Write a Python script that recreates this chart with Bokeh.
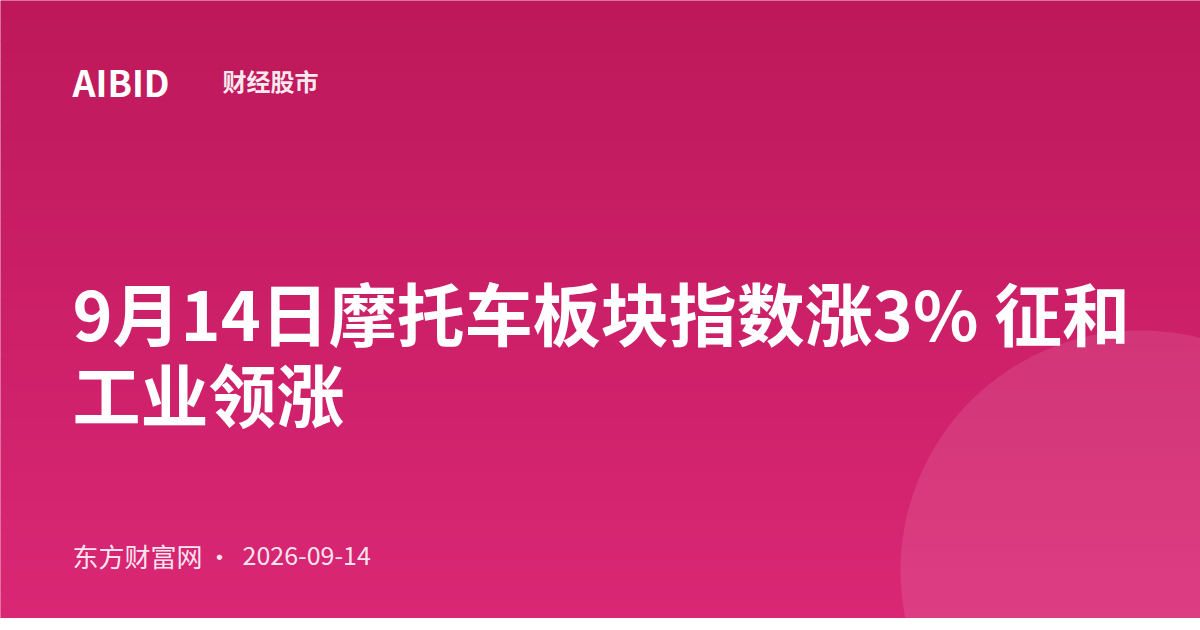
from bokeh.plotting import figure
from bokeh.models import Range1d
from bokeh.core.properties import value
from bokeh.embed import file_html
from bokeh.resources import INLINE

# ---- content ----
brand = "AIBID"
channel = "财经股市"
title_lines = ["9月14日摩托车板块指数涨3% 征和", "工业领涨"]
source = "东方财富网"
separator = "·"
date = "2026-09-14"

# ---- canvas in reference pixel coordinates ----
W, H = 1200, 618
p = figure(width=W, height=H, output_backend="svg", toolbar_location=None,
           x_range=Range1d(0, W), y_range=Range1d(H, 0),
           min_border=0, outline_line_color=None)
p.axis.visible = False
p.grid.visible = False
p.background_fill_color = "#C91F66"
p.border_fill_color = "white"

# vertical gradient background
top = (0xBD, 0x18, 0x5A)
bot = (0xDA, 0x27, 0x75)
n = 62
step = H / n
tops, bots, cols = [], [], []
for i in range(n):
    t = (i + 0.5) / n
    c = tuple(round(top[k] + (bot[k] - top[k]) * t) for k in range(3))
    tops.append(i * step)
    bots.append((i + 1) * step + 0.6)
    cols.append("#%02x%02x%02x" % c)
p.quad(left=0, right=W, top=tops, bottom=bots, fill_color=cols, line_color=None)

# decorative circle
p.circle(x=[1140], y=[570], radius=240, fill_color="white", fill_alpha=0.1, line_color=None)

font = value("Noto Sans CJK SC")
p.text(x=[72], y=[80], text=[brand], text_font=font, text_font_style="bold",
       text_font_size="36px", text_color="white", text_baseline="middle")
p.text(x=[222], y=[80], text=[channel], text_font=font, text_font_style="bold",
       text_font_size="24px", text_color="white", text_alpha=0.92, text_baseline="middle")

p.text(x=[72, 72], y=[311, 392], text=title_lines, text_font=font, text_font_style="bold",
       text_font_size="68px", text_color="white", text_baseline="middle")

p.text(x=[72], y=[555], text=[source], text_font=font, text_font_size="26px",
       text_color="white", text_alpha=0.9, text_baseline="middle")
p.text(x=[219], y=[555], text=[separator], text_font=font, text_font_size="25px",
       text_color="white", text_alpha=0.9, text_baseline="middle", text_align="center")
p.text(x=[242], y=[555], text=[date], text_font=font, text_font_size="25px",
       text_color="white", text_alpha=0.9, text_baseline="middle")

open("out.html", "w").write(file_html(p, INLINE))
